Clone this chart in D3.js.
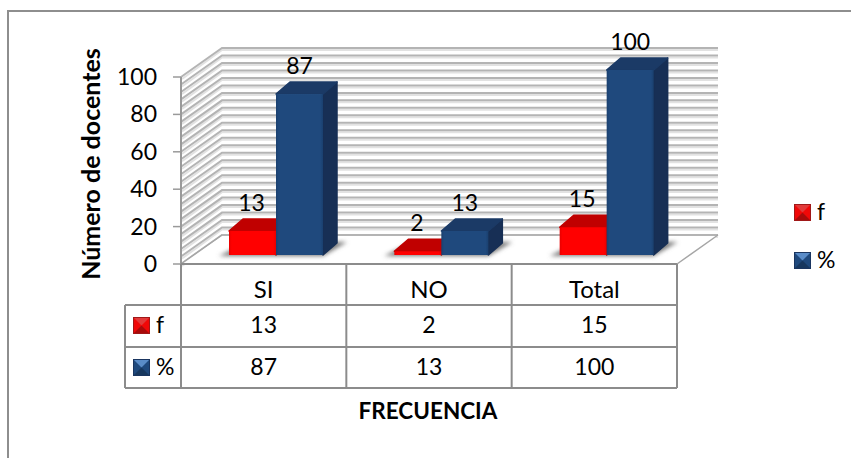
<!DOCTYPE html>
<html><head><meta charset="utf-8">
<script src="https://cdnjs.cloudflare.com/ajax/libs/d3/7.8.5/d3.min.js"></script>
<style>html,body{margin:0;padding:0;background:#fff}svg{display:block}text{font-family:Lato,"Open Sans",sans-serif;fill:#000}</style>
</head><body><svg id="c" width="851" height="458"></svg>
<script>
const categories = ["SI", "NO", "Total"];
const seriesNames = ["f", "%"];
const fValues = [13, 2, 15];
const pctValues = [87, 13, 100];
const yTicks = [0, 20, 40, 60, 80, 100];
const gridLevels = [0,4,8,12,16,20,24,28,32,36,40,44,48,52,56,60,64,68,72,76,80,84,88,92,96,100];
const series = [
  {name: seriesNames[0], values: fValues, front: "url(#redFront)", top: "#c00000", side: "#b00000",
   key: {top: "#e23a3a", bottom: "#a80a0a", sides: "#f00808", edge: "#a01818"}},
  {name: seriesNames[1], values: pctValues, front: "url(#blueFront)", top: "#1b3a66", side: "#172f55",
   key: {top: "#5a8cc8", bottom: "#17375e", sides: "#1f497d", edge: "#1a3560"}}
];

const svg = d3.select("#c");
const x0 = 181, x1 = 677, axisBase = 264, axisTop = 77;
const depthX = 41, depthY = 29;          // floor recession of the 3D box
const x = d3.scaleBand().domain(categories).range([x0, x1]);
const y = d3.scaleLinear().domain([0, 100]).range([axisBase, axisTop]);
// Bars stand part-way back on the floor, so they get their own projection of the value axis
const yBar = d3.scaleLinear().domain([0, 100]).range([255, 70]);
const frameColor = "#8e8e8e", lineColor = "#8c8c8c";
const fontSize = 23;

const defs = svg.append("defs");
const grad = (id, stops) => {
  const g = defs.append("linearGradient").attr("id", id).attr("x1", 0).attr("x2", 1).attr("y1", 0).attr("y2", 0);
  stops.forEach(s => g.append("stop").attr("offset", s[0]).attr("stop-color", s[1]));
};
grad("redFront", [[0, "#e80000"], [0.06, "#ff0000"], [0.94, "#ff0000"], [1, "#e80000"]]);
grad("blueFront", [[0, "#1a406f"], [0.06, "#1f497d"], [0.94, "#1f497d"], [1, "#1a406f"]]);
defs.append("filter").attr("id", "soft").attr("x", "-20%").attr("y", "-60%").attr("width", "140%").attr("height", "220%")
  .append("feGaussianBlur").attr("stdDeviation", 2.2);

// Chart frame: only the top and left edges are drawn
svg.append("path").attr("fill", "none").attr("stroke", frameColor).attr("stroke-width", 2)
  .attr("d", "M8,458V11H851");

// Back wall and side wall gridlines
const grid = svg.append("g").attr("fill", "none");
gridLevels.forEach(v => {
  const yy = y(v);
  grid.append("path").attr("stroke", "#e2e2e2").attr("stroke-width", 2)
    .attr("d", `M${x0 + 1},${yy + 2}L${x0 + depthX},${yy - depthY + 2}L${x1 + depthX},${yy - depthY + 2}`);
  grid.append("path").attr("stroke", "#b4b4b4").attr("stroke-width", 2)
    .attr("d", `M${x0},${yy}L${x0 + depthX},${yy - depthY}L${x1 + depthX},${yy - depthY}`);
});

// Floor: clear the grid below the back wall and draw the near edges
svg.append("path").attr("fill", "#fff")
  .attr("d", `M${x0},${axisBase}L${x0 + depthX},${axisBase - depthY + 1}L${x1 + depthX},${axisBase - depthY + 1}L${x1},${axisBase}Z`);
svg.append("path").attr("fill", "none").attr("stroke", "#a6a6a6").attr("stroke-width", 1.5)
  .attr("d", `M${x0},${axisBase}L${x0 + depthX},${axisBase - depthY}M${x1},${axisBase}L${x1 + depthX},${axisBase - depthY}`);

// Bars with their floor shadows and value labels
const barW = 47, barOffset = 48, depthBarX = 14, depthBarY = 12;
const base = yBar(0);
const bars = svg.append("g");
categories.forEach(c => {
  const left = x(c) + barOffset;
  bars.append("path").attr("fill", "#777").attr("filter", "url(#soft)")
    .attr("d", `M${left - 10},${base + 1}L${left + 2 * barW},${base + 1}L${left + 2 * barW + 24},${base - 13}L${left + 18},${base - 13}Z`);
});
categories.forEach((c, i) => {
  const left = x(c) + barOffset;
  series.forEach((s, k) => {
    const v = s.values[i];
    const bx = left + k * barW, top = yBar(v);
    bars.append("path").attr("fill", s.side).attr("stroke", s.side).attr("stroke-width", 1.5).attr("stroke-linejoin", "round")
      .attr("d", `M${bx + barW},${top}L${bx + barW + depthBarX},${top - depthBarY}L${bx + barW + depthBarX},${base - depthBarY}L${bx + barW},${base}Z`);
    bars.append("path").attr("fill", s.top).attr("stroke", s.top).attr("stroke-width", 1.5).attr("stroke-linejoin", "round")
      .attr("d", `M${bx},${top}L${bx + depthBarX},${top - depthBarY}L${bx + barW + depthBarX},${top - depthBarY}L${bx + barW},${top}Z`);
    bars.append("rect").attr("x", bx).attr("y", top).attr("width", barW).attr("height", base - top).attr("fill", s.front);
  });
});
categories.forEach((c, i) => {
  const left = x(c) + barOffset;
  series.forEach((s, k) => {
    const v = s.values[i];
    const bx = left + k * barW;
    svg.append("text").attr("x", bx + barW / 2 - (k ? 0 : 1)).attr("y", yBar(v) - 20)
      .attr("text-anchor", "middle").attr("font-size", fontSize).text(v);
  });
});

// Value axis
const axis = svg.append("g");
axis.append("line").attr("x1", x0).attr("x2", x0).attr("y1", axisTop).attr("y2", axisBase).attr("stroke", "#9a9a9a").attr("stroke-width", 2);
yTicks.forEach(t => {
  axis.append("line").attr("x1", x0 - 8).attr("x2", x0).attr("y1", y(t)).attr("y2", y(t)).attr("stroke", "#9a9a9a").attr("stroke-width", 1.5);
  axis.append("text").attr("x", 157).attr("y", y(t) + 8).attr("text-anchor", "end").attr("font-size", fontSize).text(t);
});
svg.append("text").attr("transform", "translate(100,164) rotate(-90)").attr("text-anchor", "middle")
  .attr("font-size", 25).attr("font-weight", 700).text("Número de docentes");

// Data table
const rows = [axisBase, 305, 347, 388];
const tableLeft = 125;
const table = svg.append("g").attr("stroke", lineColor).attr("stroke-width", 2).attr("fill", "none");
table.append("line").attr("x1", x0).attr("x2", x1).attr("y1", rows[0]).attr("y2", rows[0]);
rows.slice(1).forEach(r => table.append("line").attr("x1", tableLeft).attr("x2", x1).attr("y1", r).attr("y2", r));
categories.concat(["end"]).forEach((c, i) => {
  const xx = i < categories.length ? x(c) : x1;
  table.append("line").attr("x1", xx).attr("x2", xx).attr("y1", rows[0]).attr("y2", rows[3]);
});
table.append("line").attr("x1", tableLeft).attr("x2", tableLeft).attr("y1", rows[1]).attr("y2", rows[3]);

categories.forEach((c, i) => {
  const cx = x(c) + x.bandwidth() / 2;
  svg.append("text").attr("x", cx).attr("y", rows[0] + 34).attr("text-anchor", "middle").attr("font-size", 24).text(c);
  series.forEach((s, k) => {
    svg.append("text").attr("x", cx).attr("y", rows[k + 1] + 28).attr("text-anchor", "middle").attr("font-size", fontSize).text(s.values[i]);
  });
});

// Bevelled legend keys, shared by the table and the legend
function bevelKey(px, py, size, s) {
  const g = svg.append("g");
  const m = size / 2;
  g.append("rect").attr("x", px).attr("y", py).attr("width", size).attr("height", size).attr("fill", s.key.sides);
  g.append("path").attr("fill", s.key.top).attr("d", `M${px},${py}L${px + size},${py}L${px + m},${py + m}Z`);
  g.append("path").attr("fill", s.key.bottom).attr("d", `M${px},${py + size}L${px + size},${py + size}L${px + m},${py + m}Z`);
  g.append("rect").attr("x", px + 0.5).attr("y", py + 0.5).attr("width", size - 1).attr("height", size - 1)
    .attr("fill", "none").attr("stroke", s.key.edge);
}
series.forEach((s, k) => {
  bevelKey(133, rows[k + 1] + 12, 17, s);
  svg.append("text").attr("x", 156).attr("y", rows[k + 1] + 28).attr("font-size", fontSize).text(s.name);
  bevelKey(794, 204 + k * 48, 17, s);
  svg.append("text").attr("x", 817).attr("y", 220 + k * 48).attr("font-size", fontSize).text(s.name);
});

svg.append("text").attr("x", 428).attr("y", 419).attr("text-anchor", "middle")
  .attr("font-size", 22.5).attr("font-weight", 700).text("FRECUENCIA");
</script></body></html>
